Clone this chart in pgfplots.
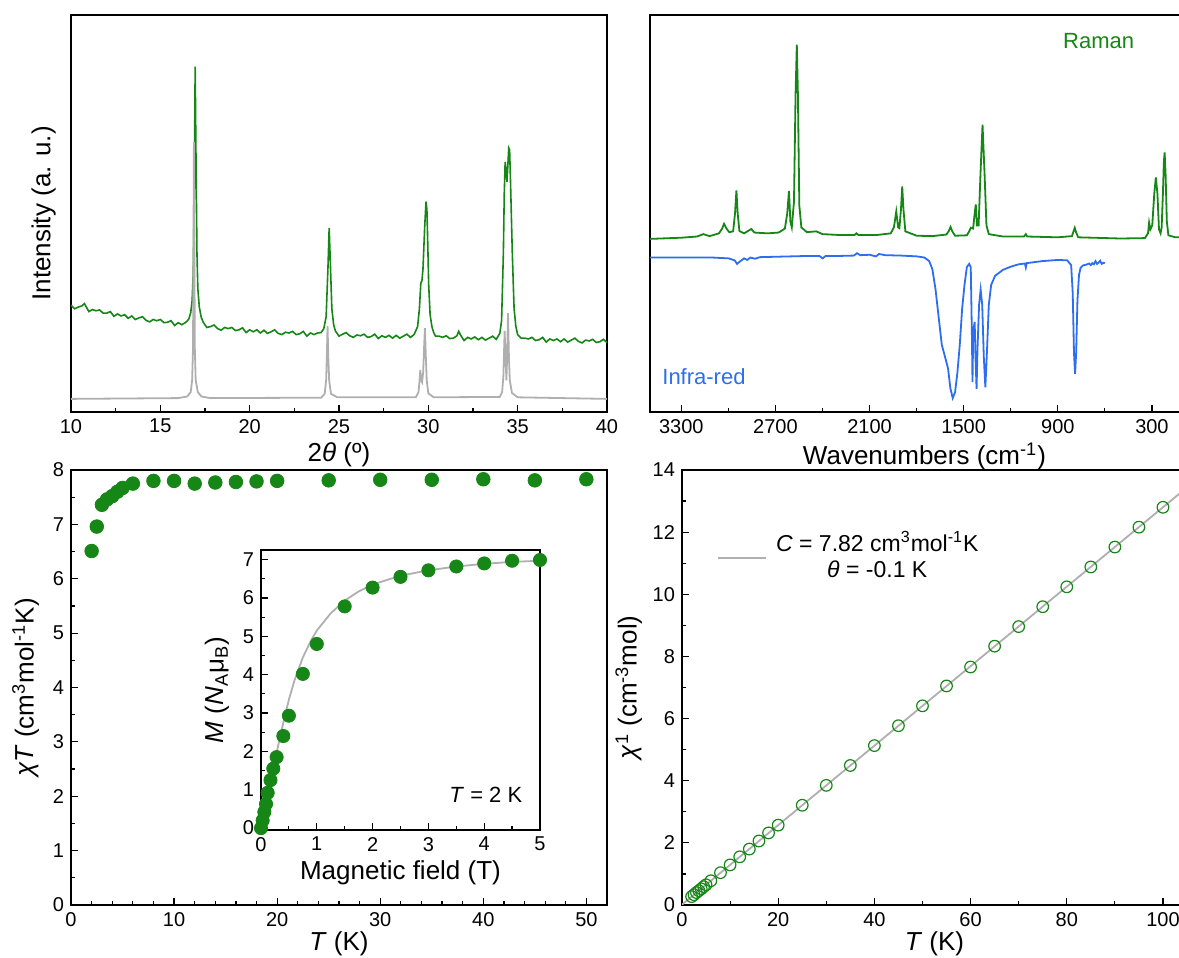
\documentclass[border=0pt]{standalone}
\usepackage{fontspec}
\setmainfont{Liberation Sans}
\usepackage{pgfplots}
\pgfplotsset{compat=1.18}

\definecolor{xgreen}{RGB}{22,134,22}
\definecolor{xblue}{RGB}{45,110,240}
\definecolor{xgray}{RGB}{175,175,175}

\pgfplotsset{
  panel/.style={
    scale only axis, anchor=south west,
    axis line style={line width=1pt},
    tick align=inside, xtick pos=bottom, ytick pos=left,
    major tick length=3.5pt, minor tick length=2pt,
    every tick/.style={black, line width=0.6pt},
    tick label style={font=\fontsize{10}{12}\selectfont},
    label style={font=\fontsize{13}{15}\selectfont},
    /pgf/number format/assume math mode=true,
    /pgf/number format/1000 sep={},
  },
}

\begin{document}
\begin{tikzpicture}
\useasboundingbox (0,0) rectangle (589.5pt,479pt);

% ---- powder diffraction ----
\begin{axis}[panel, at={(35.5pt,273pt)}, width=268pt, height=198.5pt,
  xmin=10, xmax=40, ymin=0, ymax=100,
  xtick={10,15,...,40}, minor x tick num=1, ytick=\empty,
  xlabel={2\textit{θ} (º)}, ylabel={Intensity (a. u.)},
  xlabel style={yshift=2pt},
  ylabel style={at={(axis description cs:-0.015,0.5)}, anchor=south}]
\addplot[xgreen, line width=0.8pt] coordinates {
(10.0,26.9) (10.2,26.0) (10.4,26.4) (10.6,26.7) (10.75,27.3) (10.9,26.1) (11.0,25.3) (11.2,25.8)
(11.4,25.5) (11.6,25.7) (11.8,24.9) (12.0,24.9) (12.2,25.3) (12.4,24.1) (12.6,24.7) (12.8,24.2)
(13.0,24.5) (13.2,23.6) (13.4,24.2) (13.6,23.3) (13.8,23.7) (14.0,24.0) (14.2,23.1) (14.4,22.7)
(14.6,23.3) (14.8,23.0) (15.0,23.3) (15.2,22.5) (15.4,22.6) (15.6,23.0) (15.8,21.8) (16.0,22.5)
(16.2,22.0) (16.4,22.5) (16.5,22.9) (16.6,23.5) (16.7,25) (16.78,28) (16.84,35) (16.9,55)
(16.95,87) (17.0,62) (17.05,40) (17.1,31) (17.18,26.5) (17.28,24) (17.4,22.6) (17.6,21.3)
(17.8,21.5) (18.0,21.9) (18.2,21.0) (18.4,20.6) (18.6,21.3) (18.8,21.0) (19.0,21.3) (19.2,20.5)
(19.4,20.7) (19.6,21.2) (19.8,20.0) (20.0,20.7) (20.2,20.2) (20.4,20.7) (20.6,19.9) (20.8,20.6)
(21.0,19.8) (21.2,20.2) (21.4,20.7) (21.6,19.8) (21.8,19.5) (22.0,20.1) (22.2,19.9) (22.4,20.3)
(22.6,19.5) (22.8,19.7) (23.0,20.3) (23.2,19.1) (23.4,19.9) (23.6,19.5) (23.8,19.9) (24.0,20.0)
(24.15,21) (24.28,24) (24.38,36) (24.45,46.4) (24.52,37) (24.6,26) (24.7,22) (24.8,20.4)
(25.0,19.1) (25.2,19.6) (25.4,20.0) (25.6,19.2) (25.8,18.8) (26.0,19.4) (26.2,19.2) (26.4,19.6)
(26.6,18.8) (26.8,19.0) (27.0,19.6) (27.2,18.5) (27.4,19.2) (27.6,18.8) (27.8,19.3) (28.0,18.6)
(28.2,19.3) (28.4,18.6) (28.6,19.1) (28.8,19.6) (29.0,18.8) (29.2,19.5) (29.4,21.5) (29.5,26)
(29.58,32.5) (29.64,33) (29.7,36) (29.8,47) (29.87,53) (29.92,51) (29.97,42) (30.02,32)
(30.1,24.5) (30.2,21.5) (30.3,20) (30.4,19.1) (30.6,19.1) (30.8,18.8) (31.0,19.2) (31.2,18.5)
(31.4,18.6) (31.6,19.2) (31.7,20.3) (31.8,19.4) (32.0,18.0) (32.2,18.8) (32.4,18.4) (32.6,18.9)
(32.8,18.2) (33.0,18.8) (33.2,18.1) (33.4,18.6) (33.6,19.1) (33.8,18.3) (34.0,19.8) (34.1,23)
(34.2,40) (34.25,55) (34.3,63) (34.35,61) (34.4,58) (34.45,62) (34.5,66.5) (34.55,66)
(34.6,58) (34.7,40) (34.8,26) (34.9,21.5) (35.0,19.5) (35.2,18.6) (35.4,18.6) (35.6,18.4)
(35.8,18.8) (36.0,18.0) (36.2,18.2) (36.4,18.8) (36.6,17.6) (36.8,18.4) (37.0,18.0) (37.2,18.4)
(37.4,17.7) (37.6,18.4) (37.8,17.6) (38.0,18.1) (38.2,18.6) (38.4,17.8) (38.6,17.4) (38.8,18.1)
(39.0,17.9) (39.2,18.3) (39.4,17.5) (39.6,17.7) (39.8,18.3) (40.0,17.5)
};
\addplot[xgray, line width=0.9pt] coordinates {
(10,3.3) (16.0,3.5) (16.5,3.9) (16.7,5) (16.78,8) (16.83,16) (16.88,68) (16.93,16)
(16.98,8) (17.1,5) (17.3,3.9) (17.8,3.5) (24.0,3.6) (24.2,4.6) (24.28,8) (24.32,14)
(24.36,21.7) (24.4,14) (24.45,8) (24.55,4.6) (24.9,3.7) (29.3,3.7) (29.45,5) (29.51,8)
(29.55,10.6) (29.6,8) (29.65,7.5) (29.71,10) (29.76,16) (29.81,21.1) (29.86,14) (29.91,8)
(30.0,4.7) (30.3,3.7) (34.0,3.8) (34.13,5) (34.2,9) (34.27,20.4) (34.32,14) (34.37,8)
(34.41,14) (34.46,24.9) (34.51,14) (34.56,8) (34.68,4.8) (35.0,3.7) (40,3.3)
};
\end{axis}

% ---- Raman and infra-red ----
\begin{axis}[panel, at={(325pt,273pt)}, width=274.5pt, height=198.5pt,
  x dir=reverse, xmin=0, xmax=3500, ymin=0, ymax=100,
  xtick={300,900,...,3300}, minor x tick num=1, ytick=\empty,
  xlabel={Wavenumbers (cm\textsuperscript{-1})},
  xlabel style={yshift=2pt}]
\addplot[xgreen, line width=0.9pt] coordinates {
(3500,43.6) (3300,43.9) (3200,44.2) (3160,44.8) (3120,44.3) (3060,45.0) (3040,46.2) (3028,47.4)
(3012,46.2) (2995,45.3) (2970,45.5) (2958,50) (2949,55.8) (2941,50) (2930,45.6) (2900,45.0)
(2875,45.6) (2854,46.1) (2835,45.2) (2750,45.0) (2680,45.2) (2640,46.2) (2625,50) (2614,55.7)
(2605,48) (2596,46.5) (2582,53) (2572,80) (2564,92.5) (2557,80) (2548,52) (2535,46.5)
(2500,45.3) (2440,45.5) (2400,44.8) (2300,44.6) (2195,44.6) (2184,45.0) (2172,44.6) (2050,44.6)
(1965,45) (1945,46.5) (1930,50.5) (1918,46.5) (1910,46.3) (1900,51) (1892,56.8) (1884,51)
(1872,45.5) (1800,44.4) (1700,44.3) (1610,44.7) (1595,45.6) (1584,46.6) (1573,45.5) (1555,44.4)
(1480,44.5) (1465,45.5) (1455,46.4) (1440,46.2) (1430,50) (1423,52.3) (1415,47) (1405,47)
(1393,60) (1380,72.4) (1367,60) (1355,47) (1340,44.8) (1250,44.2) (1115,44.2) (1104,44.8)
(1095,44.2) (900,44.0) (810,44.3) (800,45.5) (792,46.4) (784,45.3) (770,44.0) (500,43.7)
(345,43.8) (325,45) (318,47.7) (310,46) (298,47) (285,55) (275,59.1) (265,55)
(255,46) (245,45) (238,46.5) (230,55) (224,63) (219,65.4) (213,60) (205,48)
(195,44.5) (150,44) (100,44)
};
\addplot[xblue, line width=0.9pt] coordinates {
(3500,38.9) (3300,38.9) (3100,38.9) (3000,38.7) (2960,38.2) (2945,37.3) (2930,37.8) (2900,38.7)
(2880,38.3) (2860,38.9) (2830,38.6) (2800,39.0) (2700,39.1) (2600,39.2) (2500,39.3) (2420,39.3)
(2400,38.7) (2380,39.3) (2300,39.3) (2200,39.4) (2180,40.0) (2160,39.5) (2100,39.6) (2060,39.2)
(2040,39.8) (2000,39.5) (1900,39.4) (1800,39.2) (1750,38.9) (1720,38.0) (1700,36) (1680,31)
(1660,24) (1640,17) (1620,14) (1600,11) (1585,6) (1570,3.5) (1555,5) (1540,10)
(1525,17) (1510,26) (1495,32) (1480,36.5) (1465,37.3) (1455,36.5) (1448,20) (1444,7.5)
(1440,18) (1435,21.5) (1430,22.7) (1425,14) (1418,5.8) (1412,16) (1402,27) (1392,30.8)
(1382,27) (1372,14) (1362,6.2) (1352,15) (1340,27) (1325,32) (1300,34.3) (1250,35.8)
(1200,36.6) (1150,37.2) (1110,37.4) (1104,36.4) (1098,37.5) (1000,38.0) (900,38.3) (840,38.2)
(815,37) (805,30) (797,15) (790,9.6) (783,15) (775,28) (765,34.5) (755,36.3)
(740,36.9) (720,37.1) (700,37.4) (690,37.0) (680,37.5) (670,37.2) (660,38.0) (650,37.3)
(640,37.6) (630,38.1) (620,37.3) (610,37.6) (600,37.5)
};
\node[text=xgreen, font=\fontsize{11}{13}\selectfont] at (axis cs:640,93.5) {Raman};
\node[text=xblue, font=\fontsize{11}{13}\selectfont] at (axis cs:3156,9) {Infra-red};
\end{axis}

% ---- chi T versus T ----
\begin{axis}[panel, at={(35.5pt,26.5pt)}, width=268pt, height=217.5pt,
  xmin=0, xmax=52, ymin=0, ymax=8,
  xtick={0,10,...,50}, minor x tick num=4, ytick={0,1,...,8}, minor y tick num=1,
  xlabel={\textit{T} (K)}, ylabel={\textit{χT} (cm\textsuperscript{3}mol\textsuperscript{-1}K)},
  xlabel style={yshift=4pt}]
\addplot[only marks, mark=*, mark size=3.4pt, color=xgreen] coordinates {
(2,6.51) (2.5,6.96) (3,7.36) (3.5,7.46) (4,7.52) (4.5,7.6) (5,7.67) (6,7.75)
(8,7.8) (10,7.8) (12,7.75) (14,7.77) (16,7.78) (18,7.79) (20,7.8) (25,7.81)
(30,7.82) (35,7.82) (40,7.83) (45,7.81) (50,7.83)
};
\end{axis}

% ---- inset: magnetisation ----
\begin{axis}[panel, at={(130.5pt,64pt)}, width=139.5pt, height=140pt,
  xmin=0, xmax=5, ymin=-0.05, ymax=7.25,
  xtick={0,1,...,5}, minor x tick num=1, ytick={0,1,...,7}, minor y tick num=1,
  xlabel={Magnetic field (T)},
  ylabel={\textit{M} (\textit{N}\textsubscript{A}μ\textsubscript{B})},
  xlabel style={yshift=2pt},
  clip=false]
\addplot[xgray, line width=0.9pt] coordinates {
(0,0) (0.1,0.7) (0.2,1.4) (0.3,2.1) (0.4,2.75) (0.5,3.35) (0.6,3.85) (0.75,4.45)
(0.9,4.9) (1.0,5.15) (1.25,5.6) (1.5,5.93) (1.75,6.17) (2.0,6.35) (2.5,6.58) (3,6.72)
(3.5,6.82) (4,6.89) (4.5,6.94) (5,6.97)
};
\addplot[only marks, mark=*, mark size=3.3pt, color=xgreen] coordinates {
(0,0) (0.03,0.2) (0.06,0.42) (0.09,0.63) (0.12,0.92) (0.17,1.25) (0.22,1.55) (0.28,1.85)
(0.4,2.4) (0.5,2.93) (0.75,4.02) (1.0,4.8) (1.5,5.78) (2.0,6.27) (2.5,6.55) (3,6.72)
(3.5,6.82) (4,6.9) (4.5,6.97) (5,6.99)
};
\node[font=\fontsize{11}{13}\selectfont] at (axis cs:4.03,0.87) {\textit{T} = 2 K};
\end{axis}

% ---- inverse susceptibility ----
\begin{axis}[panel, at={(341pt,26.5pt)}, width=252.5pt, height=217.5pt,
  xmin=0, xmax=105, ymin=0, ymax=14,
  xtick={0,20,...,100}, minor x tick num=1, ytick={0,2,...,14}, minor y tick num=1,
  xlabel={\textit{T} (K)}, ylabel={\textit{χ}\textsuperscript{1} (cm\textsuperscript{-3}mol)},
  xlabel style={yshift=4pt},
  ylabel style={at={(axis description cs:-0.065,0.5)}, anchor=south}]
\addplot[xgray, line width=0.9pt] coordinates {(0,0.013) (105,13.44)};
\addplot[only marks, mark=o, mark size=2.9pt, mark options={line width=0.6pt}, color=xgreen] coordinates {
(2,0.27) (2.5,0.33) (3,0.40) (3.5,0.46) (4,0.52) (4.5,0.59) (5,0.65) (6,0.78)
(8,1.04) (10,1.29) (12,1.55) (14,1.80) (16,2.06) (18,2.32) (20,2.57) (25,3.21)
(30,3.85) (35,4.49) (40,5.13) (45,5.77) (50,6.41) (55,7.05) (60,7.66) (65,8.33)
(70,8.96) (75,9.60) (80,10.24) (85,10.88) (90,11.52) (95,12.16) (100,12.80)
};
\draw[xgray, line width=0.9pt] (axis cs:7.4,11.17) -- (axis cs:17.5,11.17);
\node[font=\fontsize{11.5}{13.5}\selectfont] at (axis cs:40.6,11.71) {\textit{C} = 7.82 cm\textsuperscript{3}mol\textsuperscript{-1}K};
\node[font=\fontsize{11.5}{13.5}\selectfont] at (axis cs:40.6,10.82) {\textit{θ} = -0.1 K};
\end{axis}
\end{tikzpicture}
\end{document}
